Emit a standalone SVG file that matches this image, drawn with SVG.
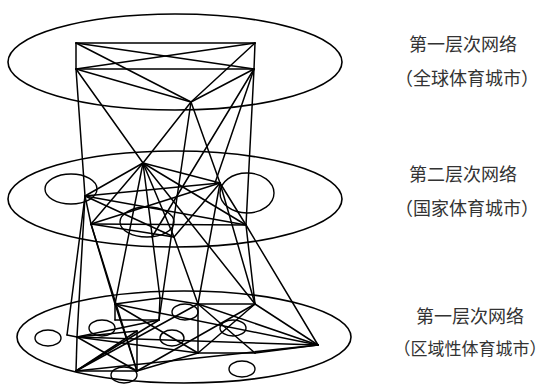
<svg xmlns="http://www.w3.org/2000/svg" width="550" height="384" viewBox="0 0 550 384">
<style>
.e{fill:none;stroke:#000;stroke-width:1.6}
.c{fill:none;stroke:#000;stroke-width:1.4}
.l line{stroke:#000;stroke-width:1.5;stroke-linecap:round}
.t{font-family:"Noto Sans CJK SC","Noto Sans CJK JP",sans-serif;font-size:18px;fill:#333;text-anchor:middle}
</style>
<rect width="550" height="384" fill="#fff"/>
<g id="layer1"><ellipse class="e" cx="175" cy="62" rx="167" ry="48"/></g>
<g id="layer2"><ellipse class="e" cx="175" cy="199" rx="167" ry="48"/>
<ellipse class="c" cx="71" cy="189" rx="26" ry="15"/>
<ellipse class="c" cx="247" cy="193" rx="27" ry="20"/>
<ellipse class="c" cx="147" cy="222" rx="27" ry="15"/></g>
<g id="layer3"><ellipse class="e" cx="184" cy="337" rx="167" ry="46"/>
<ellipse class="c" cx="48" cy="338" rx="13" ry="8"/>
<ellipse class="c" cx="102" cy="328" rx="13" ry="8"/>
<ellipse class="c" cx="185" cy="312" rx="13" ry="8"/>
<ellipse class="c" cx="172" cy="338" rx="12" ry="8"/>
<ellipse class="c" cx="233" cy="328" rx="13" ry="8"/>
<ellipse class="c" cx="124" cy="375" rx="13" ry="8"/>
<ellipse class="c" cx="242" cy="369" rx="13" ry="8"/></g>
<g id="connectors" class="l">
<!-- top -->
<line x1="76" y1="43" x2="255" y2="43"/><line x1="76" y1="69" x2="254" y2="69"/>
<line x1="76" y1="43" x2="76" y2="69"/><line x1="255" y1="43" x2="254" y2="69"/>
<line x1="76" y1="43" x2="254" y2="69"/><line x1="255" y1="43" x2="76" y2="69"/>
<line x1="76" y1="43" x2="191" y2="102"/><line x1="255" y1="43" x2="191" y2="102"/>
<line x1="76" y1="69" x2="191" y2="102"/><line x1="254" y1="69" x2="191" y2="102"/>
<!-- top to middle -->
<line x1="76" y1="69" x2="85" y2="196"/><line x1="76" y1="69" x2="143" y2="163"/>
<line x1="191" y1="102" x2="143" y2="163"/><line x1="191" y1="102" x2="159" y2="320"/>
<line x1="191" y1="102" x2="220" y2="183"/><line x1="254" y1="69" x2="246" y2="225"/>
<line x1="254" y1="69" x2="152" y2="237"/><line x1="254" y1="69" x2="215" y2="183"/>
<!-- middle -->
<line x1="143" y1="163" x2="85" y2="196"/><line x1="143" y1="163" x2="91" y2="224"/>
<line x1="143" y1="163" x2="220" y2="183"/><line x1="143" y1="163" x2="246" y2="225"/>
<line x1="143" y1="163" x2="174" y2="237"/><line x1="85" y1="196" x2="220" y2="183"/>
<line x1="85" y1="196" x2="246" y2="225"/><line x1="85" y1="196" x2="174" y2="237"/>
<line x1="91" y1="224" x2="220" y2="183"/><line x1="91" y1="224" x2="246" y2="225"/>
<line x1="91" y1="224" x2="174" y2="237"/><line x1="220" y1="183" x2="246" y2="225"/>
<line x1="220" y1="183" x2="174" y2="237"/><line x1="85" y1="196" x2="91" y2="224"/>
<!-- middle to bottom -->
<line x1="85" y1="196" x2="67" y2="335"/><line x1="85" y1="196" x2="77" y2="337"/>
<line x1="91" y1="224" x2="115" y2="304"/><line x1="91" y1="224" x2="137" y2="371"/>
<line x1="143" y1="163" x2="115" y2="304"/><line x1="143" y1="163" x2="160" y2="298"/>
<line x1="143" y1="163" x2="255" y2="304"/><line x1="174" y1="237" x2="198" y2="304"/>
<line x1="220" y1="183" x2="198" y2="304"/><line x1="220" y1="183" x2="255" y2="304"/>
<line x1="246" y1="225" x2="255" y2="304"/><line x1="246" y1="225" x2="318" y2="345"/>
<!-- bottom -->
<line x1="67" y1="335" x2="77" y2="337"/>
<line x1="77" y1="337" x2="76" y2="371"/><line x1="137" y1="331" x2="137" y2="371"/>
<line x1="76" y1="371" x2="137" y2="371"/><line x1="77" y1="337" x2="137" y2="331"/>
<line x1="77" y1="337" x2="137" y2="371"/><line x1="76" y1="371" x2="137" y2="331"/>
<line x1="115" y1="304" x2="115" y2="320"/><line x1="115" y1="320" x2="159" y2="320"/>
<line x1="159" y1="320" x2="160" y2="298"/><line x1="115" y1="304" x2="160" y2="298"/>
<line x1="160" y1="298" x2="198" y2="304"/>
<line x1="198" y1="304" x2="255" y2="304"/><line x1="198" y1="304" x2="198" y2="353"/>
<line x1="198" y1="353" x2="255" y2="353"/><line x1="198" y1="304" x2="255" y2="353"/>
<line x1="255" y1="304" x2="198" y2="353"/><line x1="255" y1="353" x2="318" y2="345"/>
<line x1="255" y1="304" x2="318" y2="345"/><line x1="198" y1="304" x2="318" y2="345"/>
<line x1="77" y1="337" x2="318" y2="345"/><line x1="76" y1="371" x2="318" y2="345"/>
<line x1="115" y1="304" x2="318" y2="345"/>
<line x1="77" y1="337" x2="159" y2="320"/><line x1="76" y1="371" x2="159" y2="320"/>
<line x1="76" y1="371" x2="198" y2="304"/><line x1="137" y1="371" x2="115" y2="304"/>
<line x1="137" y1="371" x2="255" y2="304"/><line x1="137" y1="371" x2="198" y2="353"/>
<line x1="77" y1="337" x2="198" y2="353"/><line x1="115" y1="304" x2="198" y2="353"/>
</g>
<g id="labels">
<text class="t" x="463" y="51">第一层次网络</text>
<text class="t" x="467" y="85">（全球体育城市）</text>
<text class="t" x="463" y="181">第二层次网络</text>
<text class="t" x="467" y="215">（国家体育城市）</text>
<text class="t" x="470" y="323">第一层次网络</text>
<text class="t" x="470" y="355" style="font-size:17px">（区域性体育城市）</text>
</g>
</svg>
